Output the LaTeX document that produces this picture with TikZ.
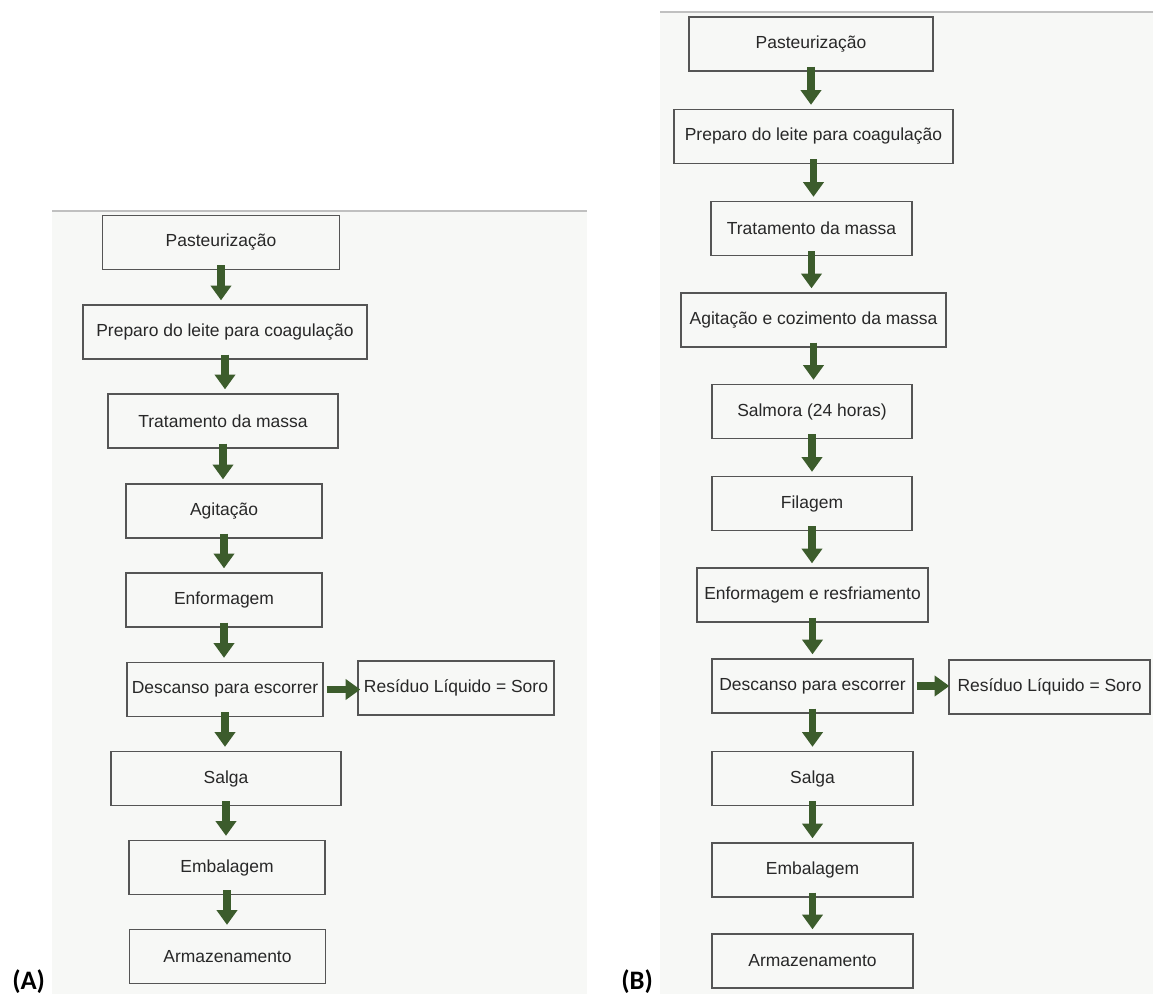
\documentclass[tikz,border=0pt]{standalone}
\usepackage{fontspec}
\setmainfont{Liberation Sans}
\newfontfamily\labelfont{Carlito}
\usetikzlibrary{arrows.meta}
\definecolor{flowgreen}{RGB}{60,92,44}
\definecolor{boxgray}{RGB}{85,85,85}
\definecolor{textgray}{RGB}{40,40,40}
\definecolor{rulegray}{RGB}{192,192,192}
\definecolor{paper}{RGB}{247,248,246}
\begin{document}
\begin{tikzpicture}[x=0.75pt,y=0.75pt,yscale=-1,xscale=1,
    stage/.style={draw=boxgray,line width=1pt,text=textgray,minimum height=40.5pt,inner sep=1.5pt,font=\fontsize{13.1}{15}\selectfont},
    flow/.style={flowgreen,line width=5.6pt,-{Triangle[width=15pt,length=11pt]}},
    panel/.style={anchor=base west,inner sep=0pt,font=\labelfont\bfseries\fontsize{20}{24}\selectfont}]
    \useasboundingbox (0,0) rectangle (1153,994);
    %Shape: Rectangle [paper (A)]
    \fill [paper] (52,211) rectangle (587,994);
    %Shape: Rectangle [paper (B)]
    \fill [paper] (660,12) rectangle (1153,994);
    %Straight Lines [top rules]
    \draw [rulegray,line width=1.5pt] (52,211) -- (587,211);
    \draw [rulegray,line width=1.5pt] (660,12) -- (1153,12);

    % Flowchart (A)
    \node [stage,minimum width=177.75pt] (pastA) at (221,242.5) {Pasteurização};
    \node [stage,minimum width=213pt] (prepA) at (225,332) {Preparo do leite para coagulação};
    \node [stage,minimum width=172.5pt] (tratA) at (223,421) {Tratamento da massa};
    \node [stage,minimum width=147pt] (agitA) at (224,511) {Agitação};
    \node [stage,minimum width=147pt] (enfoA) at (224,600) {Enformagem};
    \node [stage,minimum width=147pt] (descA) at (225,689.5) {Descanso para escorrer};
    \node [stage,minimum width=147pt] (soroA) at (456,688) {Resíduo Líquido = Soro};
    \node [stage,minimum width=172.5pt] (salgA) at (226,778.5) {Salga};
    \node [stage,minimum width=147pt] (embaA) at (227,867.5) {Embalagem};
    \node [stage,minimum width=147pt] (armaA) at (227.5,956.5) {Armazenamento};
    \draw [flow] ([yshift=-3.75pt]pastA.south) -- ([yshift=-3pt]pastA.south |- prepA.north);
    \draw [flow] ([yshift=-3.75pt]prepA.south) -- ([yshift=-3pt]prepA.south |- tratA.north);
    \draw [flow] ([yshift=-3.75pt]tratA.south) -- ([yshift=-3pt]tratA.south |- agitA.north);
    \draw [flow] ([yshift=-3.75pt]agitA.south) -- ([yshift=-3pt]agitA.south |- enfoA.north);
    \draw [flow] ([yshift=-3.75pt]enfoA.south) -- ([yshift=-3pt]enfoA.south |- descA.north);
    \draw [flow] ([yshift=-3.75pt]descA.south) -- ([yshift=-3pt]descA.south |- salgA.north);
    \draw [flow] ([yshift=-3.75pt]salgA.south) -- ([yshift=-3pt]salgA.south |- embaA.north);
    \draw [flow] ([yshift=-3.75pt]embaA.south) -- ([yshift=-3pt]embaA.south |- armaA.north);
    \draw [flow] ([xshift=2.25pt]descA.east) -- ([xshift=2.25pt]soroA.west |- descA.east);

    % Flowchart (B)
    \node [stage,minimum width=183pt] (pastB) at (811,44) {Pasteurização};
    \node [stage,minimum width=209.25pt] (prepB) at (813.5,136.5) {Preparo do leite para coagulação};
    \node [stage,minimum width=150.75pt] (tratB) at (811.5,228.5) {Tratamento da massa};
    \node [stage,minimum width=198.75pt] (agitB) at (813.5,320) {Agitação e cozimento da massa};
    \node [stage,minimum width=150pt] (salmB) at (812,411.5) {Salmora (24 horas)};
    \node [stage,minimum width=150pt] (filaB) at (812,503.5) {Filagem};
    \node [stage,minimum width=173.25pt] (enfoB) at (812.5,595) {Enformagem e resfriamento};
    \node [stage,minimum width=150.75pt] (descB) at (812.5,686) {Descanso para escorrer};
    \node [stage,minimum width=150.75pt] (soroB) at (1049.5,687) {Resíduo Líquido = Soro};
    \node [stage,minimum width=150.75pt] (salgB) at (812.5,778.5) {Salga};
    \node [stage,minimum width=150.75pt] (embaB) at (812.5,870) {Embalagem};
    \node [stage,minimum width=150.75pt] (armaB) at (812.5,961) {Armazenamento};
    \draw [flow] ([yshift=-3.75pt]pastB.south) -- ([yshift=-3pt]pastB.south |- prepB.north);
    \draw [flow] ([yshift=-3.75pt]prepB.south) -- ([yshift=-3pt]prepB.south |- tratB.north);
    \draw [flow] ([yshift=-3.75pt]tratB.south) -- ([yshift=-3pt]tratB.south |- agitB.north);
    \draw [flow] ([yshift=-3.75pt]agitB.south) -- ([yshift=-3pt]agitB.south |- salmB.north);
    \draw [flow] ([yshift=-3.75pt]salmB.south) -- ([yshift=-3pt]salmB.south |- filaB.north);
    \draw [flow] ([yshift=-3.75pt]filaB.south) -- ([yshift=-3pt]filaB.south |- enfoB.north);
    \draw [flow] ([yshift=-3.75pt]enfoB.south) -- ([yshift=-3pt]enfoB.south |- descB.north);
    \draw [flow] ([yshift=-3.75pt]descB.south) -- ([yshift=-3pt]descB.south |- salgB.north);
    \draw [flow] ([yshift=-3.75pt]salgB.south) -- ([yshift=-3pt]salgB.south |- embaB.north);
    \draw [flow] ([yshift=-3.75pt]embaB.south) -- ([yshift=-3pt]embaB.south |- armaB.north);
    \draw [flow] ([xshift=2.25pt]descB.east) -- ([xshift=0.75pt]soroB.west |- descB.east);

    % Text Node
    \node [panel] (labA) at (12,989) {(A)};
    % Text Node
    \node [panel] (labB) at (621,989) {(B)};
\end{tikzpicture}
\end{document}
